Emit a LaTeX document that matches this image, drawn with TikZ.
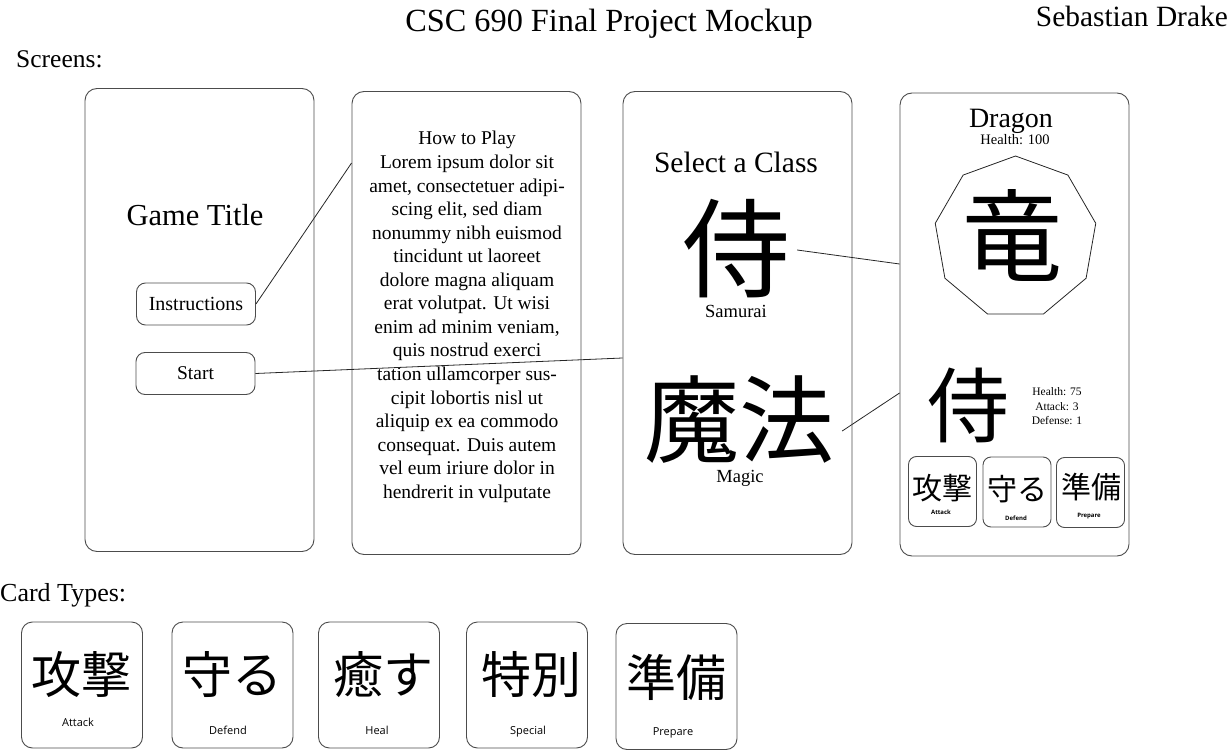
\documentclass[tikz,border=0pt]{standalone}
\usepackage{fontspec}
\setmainfont{Liberation Serif}
\newfontfamily\cjk{Noto Sans CJK JP}
\newfontfamily\labelfont{Open Sans}
\usetikzlibrary{shapes.geometric,calc}
\newcommand\pxsize[1]{\fontsize{#1}{#1}\selectfont}
\begin{document}
\begin{tikzpicture}[x=1pt,y=-1pt,
 screen/.style={draw=black!70, line width=0.9pt, rounded corners=12pt, minimum width=229pt, minimum height=463pt, inner sep=0pt},
 button/.style={draw=black!70, line width=0.9pt, rounded corners=9pt, minimum width=119pt, minimum height=42pt, inner sep=0pt},
 card/.style={draw=black!70, line width=0.9pt, rounded corners=11pt, minimum width=121pt, minimum height=126pt, inner sep=0pt},
 minicard/.style={draw=black!70, line width=0.9pt, rounded corners=8pt, minimum width=68pt, minimum height=70pt, inner sep=0pt},
 txt/.style={inner sep=0pt, anchor=base},
 kanji/.style={inner sep=0pt, anchor=center},
 link/.style={draw=black!85, line width=0.8pt}
]
\useasboundingbox (0,0) rectangle (1231,751);
% header
\node[txt, font=\pxsize{32.3}] (title) at (609,32) {CSC 690 Final Project Mockup};
\node[txt, font=\pxsize{29.4}, anchor=base east] (author) at (1228,27) {Sebastian Drake};
\node[txt, font=\pxsize{25.5}, anchor=base west] (screens) at (16,68) {Screens:};
% screens
\node[screen] (home) at (199.5,320) {};
\node[screen] (howto) at (466.5,323) {};
\node[screen] (select) at (737.5,323) {};
\node[screen] (battle) at (1014.5,324.5) {};
% home screen
\node[txt, font=\pxsize{30.5}] (gametitle) at (195,226) {Game Title};
\node[button, font=\pxsize{20}] (instr) at (196,304) {Instructions};
\node[button, font=\pxsize{19.5}] (start) at (195.5,373.5) {Start};
% how to play
\foreach \t [count=\i] in {How to Play, Lorem ipsum dolor sit, {amet, consectetuer adipi-}, {scing elit, sed diam}, nonummy nibh euismod, tincidunt ut laoreet, dolore magna aliquam, erat volutpat. Ut wisi, {enim ad minim veniam,}, quis nostrud exerci, tation ullamcorper sus-, cipit lobortis nisl ut, aliquip ex ea commodo, consequat. Duis autem, vel eum iriure dolor in, hendrerit in vulputate}
  \node[txt, font=\pxsize{19.5}] (howto\i) at (467,{145+(\i-1)*23.55}) {\t};
% select class
\node[txt, font=\pxsize{29.5}] (selecttitle) at (736,173) {Select a Class};
\node[kanji, font=\cjk\pxsize{108}] (samk) at (736,249) {侍};
\node[txt, font=\pxsize{18.5}] (samlabel) at (736,317) {Samurai};
\node[kanji, font=\cjk\pxsize{95}] (magk) at (739,420) {魔法};
\node[txt, font=\pxsize{18.5}] (maglabel) at (740,482) {Magic};
% battle
\node[txt, font=\pxsize{28}] (dragon) at (1011,128) {Dragon};
\node[txt, font=\pxsize{14.5}] (dhealth) at (1015,145) {Health: 100};
\node[draw=black!85, line width=0.8pt, regular polygon, regular polygon sides=9, minimum size=163pt, inner sep=0pt, outer sep=0pt] (nonagon) at (1015.5,237.5) {};
\node[kanji, font=\cjk\pxsize{100}] (ryu) at (1012,236) {竜};
\node[kanji, font=\cjk\pxsize{82}] (player) at (968,405) {侍};
\node[txt, font=\pxsize{11.5}] (hp) at (1057,395) {Health: 75};
\node[txt, font=\pxsize{11.5}] (atk) at (1057,410) {Attack: 3};
\node[txt, font=\pxsize{11.5}] (def) at (1057,424) {Defense: 1};
\node[minicard] (mc1) at (942.5,491.5) {};
\node[minicard] (mc2) at (1017,492) {};
\node[minicard] (mc3) at (1090.5,492.5) {};
\node[kanji, font=\cjk\pxsize{30}] (mc1k) at (942,488) {攻撃};
\node[kanji, font=\cjk\pxsize{30}] (mc2k) at (1017,489) {守る};
\node[kanji, font=\cjk\pxsize{30}] (mc3k) at (1091,487) {準備};
\node[txt, font=\labelfont\bfseries\pxsize{6}] (mc1l) at (941,514) {Attack};
\node[txt, font=\labelfont\bfseries\pxsize{6}] (mc2l) at (1016,520) {Defend};
\node[txt, font=\labelfont\bfseries\pxsize{6}] (mc3l) at (1089,517) {Prepare};
% card types
\node[txt, font=\pxsize{26}, anchor=base west] (cardtypes) at (0,601) {Card Types:};
\node[card] (c1) at (82,685) {};
\node[card] (c2) at (232.5,685) {};
\node[card] (c3) at (379,685) {};
\node[card] (c4) at (527,685) {};
\node[card] (c5) at (676.5,686.5) {};
\node[kanji, font=\cjk\pxsize{50}] (c1k) at (81,675) {攻撃};
\node[kanji, font=\cjk\pxsize{50}] (c2k) at (232,675) {守る};
\node[kanji, font=\cjk\pxsize{50}] (c3k) at (383,675) {癒す};
\node[kanji, font=\cjk\pxsize{50}] (c4k) at (531,675) {特別};
\node[kanji, font=\cjk\pxsize{50}] (c5k) at (676,677) {準備};
\node[txt, font=\labelfont\pxsize{11}] (c1l) at (78,726) {Attack};
\node[txt, font=\labelfont\pxsize{11}] (c2l) at (228,734) {Defend};
\node[txt, font=\labelfont\pxsize{11}] (c3l) at (377,734) {Heal};
\node[txt, font=\labelfont\pxsize{11}] (c4l) at (528,734) {Special};
\node[txt, font=\labelfont\pxsize{11}] (c5l) at (673,735) {Prepare};
% links
\draw[link] (instr.east) -- ([yshift=160pt]howto.west);
\draw[link] (start.east) -- ([yshift=-35pt]select.west);
\draw[link] ([xshift=7pt,yshift=-1pt]samk.east) -- ([yshift=60.5pt]battle.west);
\draw[link] ([xshift=8pt,yshift=-11pt]magk.east) -- ([yshift=-68.5pt]battle.west);
\end{tikzpicture}
\end{document}
